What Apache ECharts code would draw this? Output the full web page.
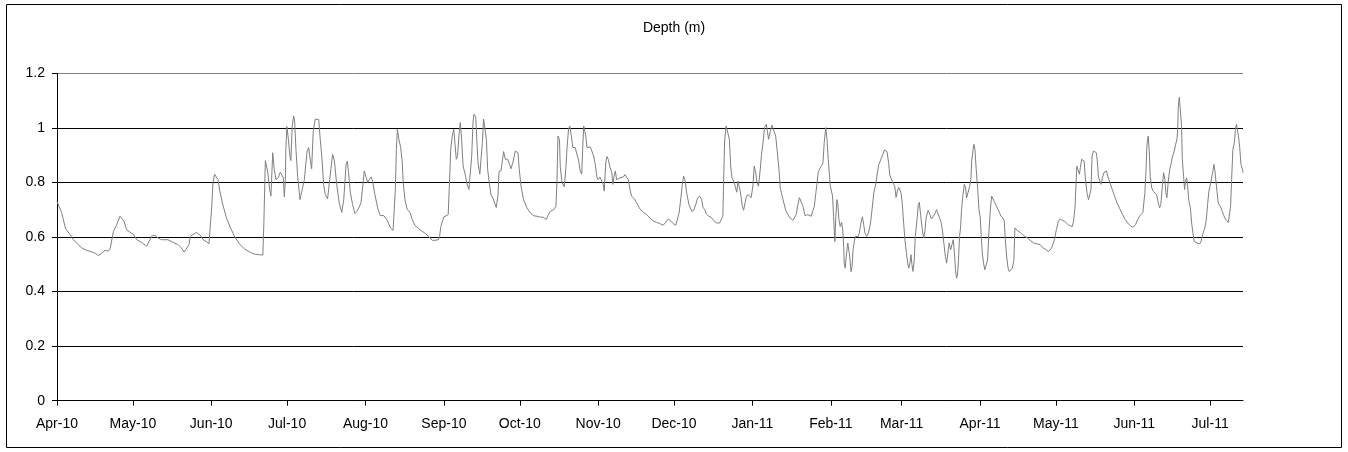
<!DOCTYPE html>
<html>
<head>
<meta charset="utf-8">
<script src="https://cdn.jsdelivr.net/npm/echarts@6/dist/echarts.min.js"></script>
<style>
  html, body { margin: 0; padding: 0; background: #ffffff; }
  #chart { width: 1348px; height: 452px; }
</style>
</head>
<body>
<div id="chart"></div>
<script>
// Water depth record, April 2010 – July 2011
const chartTitle = 'Depth (m)';
const monthNames = ['Jan', 'Feb', 'Mar', 'Apr', 'May', 'Jun', 'Jul', 'Aug', 'Sep', 'Oct', 'Nov', 'Dec'];
const startDay = [2010, 3, 1];   // 1 April 2010 (month is zero-based)
const lastDay = 469;             // axis runs to this many days after the start
const yTicks = [0, 0.2, 0.4, 0.6, 0.8, 1, 1.2];

// Days since 1 April 2010
const dayOffset = [
  0, 1.8, 3.4, 5.1, 6.5, 8.4, 9.8, 11.7, 13, 15, 16.3, 17.7, 19, 20.3, 21, 22.3, 23.6, 24.9, 25.6, 26.5,
  27.5, 28.9, 30.2, 31.5, 33.5, 35.5, 36.4, 37.7, 38.7, 40, 41.4, 43.9, 45.9, 47.9, 49.2, 50.2, 51.4, 52.2, 52.7, 53.8,
  55.1, 55.7, 56.7, 58, 59, 60.1, 60.6, 61.2, 61.7, 62.3, 63, 63.7, 64.3, 65.4, 67, 68.3, 70.3, 72.3, 74.2, 76.2,
  78.2, 80.1, 81.4, 81.8, 82.4, 82.8, 83.4, 84.1, 84.6, 85.3, 85.9, 86.6, 87.5, 88.3, 89, 89.5, 89.9, 90.3, 90.5, 90.9,
  91.5, 92.1, 92.5, 93, 93.6, 94, 94.5, 95.2, 96.1, 96.8, 97.8, 98.9, 99.5, 100.2, 100.7, 101.3, 102.1, 102.8, 103.5, 104.1,
  104.8, 105.4, 106.1, 107, 107.7, 108.3, 109, 109.7, 110.6, 111.6, 112.6, 113.4, 114.3, 114.8, 115.3, 116, 116.9, 117.8, 118.6, 119.5,
  120.2, 121, 121.5, 122.1, 122.9, 123.5, 124.2, 124.8, 125.7, 126.8, 127.8, 129.3, 130.6, 131.9, 132.9, 133.4, 133.8, 134.2, 134.6, 134.8,
  135.2, 135.9, 136.5, 136.9, 137.6, 138.5, 139.6, 140.5, 141.6, 143.1, 144.4, 145.8, 147.1, 148.4, 149.5, 150.8, 151.3, 151.8, 153, 153.9,
  154.7, 155.1, 155.7, 156.3, 156.9, 157.4, 157.9, 158.4, 159, 159.5, 160, 160.6, 161.4, 162.2, 162.9, 163.6, 164, 164.5, 164.9, 165.6,
  166, 166.5, 167.2, 167.7, 168.2, 168.7, 169.2, 169.8, 170.3, 170.8, 171.6, 172.4, 173.7, 174.4, 174.8, 175.6, 176.1, 176.6, 177.3, 178.2,
  179, 179.5, 180.3, 181.2, 181.9, 182.3, 182.8, 183.5, 184.5, 185.8, 187.2, 188.5, 189.8, 191.1, 192.4, 193.5, 194.1, 195.1, 196.4, 197.3,
  197.7, 198.1, 198.7, 199, 199.7, 200.6, 201.2, 201.7, 202.3, 202.8, 203.4, 204, 204.9, 205.6, 206.3, 206.9, 207.5, 207.9, 208.3, 208.7,
  209.1, 209.6, 210.3, 210.9, 211.6, 212.2, 212.8, 213.5, 214, 214.7, 215.4, 216, 216.4, 217, 217.5, 218, 218.7, 219.4, 219.8, 220.3,
  220.8, 221.3, 222, 222.6, 223.3, 224, 224.6, 225.3, 225.9, 226.6, 227.2, 228.3, 229.2, 230.5, 231.8, 233.2, 234.5, 235.8, 237.1, 238.4,
  239.7, 240.7, 241.7, 242.8, 243.7, 244.7, 245.4, 246, 246.8, 247.3, 247.8, 248.3, 249, 249.9, 251, 251.8, 252.6, 253.3, 254.1, 254.9,
  255.5, 256.2, 256.8, 257.8, 258.7, 259.7, 260.7, 262, 262.7, 263.3, 263.7, 264, 264.6, 265.3, 265.9, 266.4, 266.9, 267.6, 268.2, 268.8,
  269.3, 269.8, 270.3, 271, 271.5, 272.1, 272.6, 273.2, 273.9, 274.5, 275.2, 275.7, 276.3, 276.8, 277.4, 278.1, 278.6, 279.2, 279.8, 280.5,
  281, 281.4, 282.1, 282.7, 283.4, 284.2, 285, 285.6, 286, 287.1, 288.1, 289, 289.9, 291, 291.7, 292.3, 293, 293.6, 294.3, 295,
  295.8, 296.3, 296.9, 297.6, 298.2, 298.9, 299.5, 300.1, 300.5, 301, 301.6, 302.4, 302.9, 303.4, 304, 304.5, 305, 305.4, 305.8, 306.3,
  306.7, 307.1, 307.3, 307.6, 308, 308.4, 308.8, 309.2, 309.7, 310.3, 310.7, 311.1, 311.3, 311.7, 312.1, 312.7, 313.1, 313.4, 314, 314.4,
  314.8, 315.3, 315.7, 316.2, 316.8, 317.3, 317.9, 318.5, 319, 319.5, 320.2, 320.9, 321.7, 322.3, 323, 323.5, 323.9, 324.4, 325, 325.4,
  326, 326.5, 327.2, 327.7, 328.2, 328.9, 329.3, 329.8, 330.4, 330.7, 331.3, 331.8, 332.4, 332.9, 333.4, 333.8, 334.3, 334.8, 335.3, 335.9,
  336.4, 336.8, 337.3, 337.7, 338.1, 338.5, 339, 339.4, 340.1, 340.6, 341, 341.5, 342.2, 342.7, 343.2, 343.7, 344.5, 345.2, 345.8, 346.5,
  347.2, 347.8, 348.5, 349, 349.7, 350.2, 350.7, 351.3, 351.8, 352.3, 352.8, 353.4, 353.9, 354.4, 354.9, 355.3, 355.7, 356.1, 356.5, 356.9,
  357.3, 357.7, 358.2, 358.8, 359.3, 359.7, 360.3, 360.9, 361.4, 361.7, 362.2, 362.6, 363, 363.5, 364.1, 364.6, 365.1, 365.5, 365.9, 366.4,
  366.9, 367.5, 368, 368.5, 369.1, 369.6, 370.1, 370.6, 371.2, 371.8, 372.5, 373.3, 374.1, 374.6, 375, 375.6, 376.1, 376.6, 377.2, 377.8,
  378.4, 378.8, 379.4, 380.1, 380.9, 381.8, 382.8, 383.8, 384.8, 386.2, 387.5, 388.8, 389.9, 390.9, 392, 392.8, 393.6, 394.4, 395.2, 396,
  396.7, 397.5, 398.3, 399.1, 399.9, 400.7, 401.5, 402, 402.6, 403, 403.3, 403.7, 404.3, 404.7, 405.2, 405.8, 406.2, 406.6, 407.3, 407.9,
  408.4, 408.9, 409.3, 409.9, 410.5, 411, 411.4, 411.8, 412.4, 412.9, 413.4, 414, 414.5, 415, 415.6, 416.4, 417.3, 418.2, 419.2, 420.3,
  421.4, 422.4, 423.2, 424, 424.8, 425.6, 426.5, 427.3, 428.2, 429.4, 430.2, 430.6, 431, 431.5, 431.9, 432.3, 432.9, 433.5, 434.2, 434.8,
  435.5, 436, 436.5, 437.1, 437.6, 438.1, 438.5, 438.9, 439.4, 440, 440.5, 441, 441.8, 442.4, 442.9, 443.2, 443.4, 443.8, 444.4, 444.7,
  445, 445.5, 445.9, 446.3, 446.7, 447.1, 447.6, 448.2, 448.7, 449.2, 449.7, 450.3, 450.8, 451.3, 451.9, 452.4, 452.9, 453.4, 453.9, 454.5,
  455, 455.5, 456, 456.6, 457.1, 457.5, 457.9, 458.3, 458.7, 459.2, 459.8, 460.3, 460.8, 461.3, 461.8, 462.4, 463.2, 463.7, 464.1, 464.5,
  465, 465.6, 466, 466.4, 466.8, 467.2, 467.7, 468.2, 468.8, 469
];

// Depth in metres at each of the days above
const depth = [
  0.73, 0.69, 0.63, 0.61, 0.59, 0.572, 0.56, 0.551, 0.548, 0.541, 0.532, 0.541, 0.551, 0.548, 0.556, 0.62, 0.645, 0.676, 0.674, 0.658,
  0.627, 0.617, 0.61, 0.59, 0.58, 0.566, 0.584, 0.606, 0.606, 0.596, 0.59, 0.59, 0.58, 0.572, 0.56, 0.545, 0.56, 0.572, 0.602, 0.609,
  0.617, 0.617, 0.606, 0.588, 0.584, 0.575, 0.575, 0.713, 0.8, 0.83, 0.836, 0.81, 0.772, 0.725, 0.67, 0.64, 0.6, 0.573, 0.556, 0.545,
  0.537, 0.535, 0.534, 0.65, 0.88, 0.88, 0.835, 0.774, 0.75, 0.909, 0.848, 0.81, 0.817, 0.838, 0.842, 0.817, 0.747, 0.81, 0.92, 1.005,
  0.958, 0.897, 0.88, 1.007, 1.044, 1.02, 0.92, 0.817, 0.737, 0.735, 0.81, 0.915, 0.928, 0.88, 0.85, 0.983, 1.032, 1.038, 1.03, 0.958,
  0.885, 0.793, 0.756, 0.74, 0.744, 0.848, 0.903, 0.879, 0.793, 0.725, 0.69, 0.737, 0.866, 0.878, 0.836, 0.762, 0.719, 0.686, 0.694, 0.71,
  0.725, 0.793, 0.842, 0.823, 0.8, 0.811, 0.82, 0.805, 0.756, 0.707, 0.679, 0.678, 0.661, 0.633, 0.624, 0.627, 0.774, 0.921, 0.995, 0.995,
  0.958, 0.928, 0.879, 0.8, 0.737, 0.7, 0.69, 0.664, 0.642, 0.63, 0.621, 0.612, 0.6, 0.588, 0.588, 0.59, 0.602, 0.639, 0.674, 0.678,
  0.682, 0.774, 0.921, 0.97, 0.995, 0.94, 0.885, 0.897, 0.977, 1.02, 0.958, 0.86, 0.83, 0.793, 0.774, 0.776, 0.897, 1.02, 1.05, 1.038,
  0.958, 0.872, 0.83, 0.823, 0.946, 1.032, 1.026, 0.958, 0.848, 0.81, 0.755, 0.742, 0.708, 0.755, 0.84, 0.843, 0.878, 0.913, 0.885, 0.885,
  0.866, 0.85, 0.874, 0.915, 0.919, 0.909, 0.848, 0.786, 0.737, 0.707, 0.688, 0.678, 0.676, 0.673, 0.672, 0.664, 0.678, 0.694, 0.7, 0.713,
  0.8, 0.97, 0.958, 0.86, 0.8, 0.784, 0.848, 0.928, 0.995, 1.007, 0.97, 0.928, 0.928, 0.928, 0.879, 0.842, 0.83, 0.928, 1.007, 1.013,
  0.97, 0.928, 0.921, 0.93, 0.924, 0.897, 0.87, 0.82, 0.81, 0.82, 0.817, 0.793, 0.768, 0.872, 0.895, 0.885, 0.855, 0.836, 0.793, 0.823,
  0.842, 0.81, 0.808, 0.817, 0.817, 0.82, 0.829, 0.833, 0.81, 0.774, 0.75, 0.74, 0.725, 0.703, 0.691, 0.682, 0.67, 0.658, 0.654, 0.649,
  0.643, 0.654, 0.666, 0.658, 0.649, 0.643, 0.645, 0.688, 0.75, 0.793, 0.823, 0.811, 0.762, 0.719, 0.694, 0.698, 0.719, 0.743, 0.75, 0.737,
  0.708, 0.7, 0.684, 0.676, 0.672, 0.66, 0.652, 0.651, 0.654, 0.676, 0.835, 0.952, 1.007, 1.001, 0.958, 0.86, 0.817, 0.805, 0.786, 0.764,
  0.805, 0.805, 0.762, 0.713, 0.698, 0.725, 0.747, 0.756, 0.75, 0.744, 0.787, 0.86, 0.836, 0.8, 0.786, 0.848, 0.903, 0.946, 1.001, 1.013,
  0.983, 0.958, 0.989, 1.01, 1.005, 0.97, 0.897, 0.836, 0.78, 0.737, 0.7, 0.682, 0.67, 0.661, 0.666, 0.682, 0.719, 0.744, 0.744, 0.713,
  0.678, 0.674, 0.682, 0.678, 0.676, 0.678, 0.713, 0.762, 0.793, 0.836, 0.85, 0.862, 0.872, 0.946, 1.001, 0.958, 0.884, 0.836, 0.787, 0.78,
  0.75, 0.676, 0.639, 0.584, 0.676, 0.737, 0.719, 0.664, 0.639, 0.654, 0.627, 0.566, 0.504, 0.486, 0.529, 0.578, 0.584, 0.535, 0.473, 0.492,
  0.553, 0.584, 0.602, 0.609, 0.602, 0.615, 0.651, 0.674, 0.645, 0.615, 0.602, 0.615, 0.651, 0.7, 0.762, 0.768, 0.799, 0.835, 0.866, 0.86,
  0.889, 0.901, 0.919, 0.925, 0.913, 0.87, 0.828, 0.815, 0.803, 0.797, 0.785, 0.745, 0.772, 0.782, 0.779, 0.76, 0.718, 0.652, 0.591, 0.542,
  0.505, 0.486, 0.505, 0.535, 0.498, 0.474, 0.516, 0.602, 0.664, 0.719, 0.727, 0.682, 0.627, 0.596, 0.621, 0.67, 0.698, 0.682, 0.666, 0.67,
  0.686, 0.7, 0.694, 0.67, 0.651, 0.621, 0.578, 0.529, 0.504, 0.541, 0.578, 0.553, 0.572, 0.59, 0.541, 0.48, 0.449, 0.461, 0.516, 0.602,
  0.633, 0.7, 0.75, 0.793, 0.78, 0.743, 0.743, 0.786, 0.811, 0.878, 0.915, 0.94, 0.921, 0.848, 0.774, 0.7, 0.67, 0.602, 0.541, 0.504,
  0.48, 0.473, 0.516, 0.615, 0.7, 0.75, 0.743, 0.731, 0.725, 0.707, 0.694, 0.676, 0.67, 0.658, 0.59, 0.523, 0.486, 0.473, 0.48, 0.486,
  0.516, 0.633, 0.627, 0.621, 0.617, 0.609, 0.602, 0.596, 0.588, 0.578, 0.575, 0.572, 0.56, 0.555, 0.547, 0.553, 0.566, 0.59, 0.627, 0.658,
  0.666, 0.661, 0.658, 0.652, 0.645, 0.641, 0.639, 0.658, 0.713, 0.8, 0.86, 0.848, 0.83, 0.854, 0.885, 0.891, 0.878, 0.823, 0.762, 0.737,
  0.731, 0.774, 0.897, 0.915, 0.921, 0.909, 0.878, 0.823, 0.805, 0.793, 0.817, 0.836, 0.842, 0.842, 0.82, 0.799, 0.774, 0.75, 0.725, 0.703,
  0.682, 0.664, 0.654, 0.645, 0.639, 0.636, 0.645, 0.663, 0.678, 0.69, 0.762, 0.835, 0.934, 0.97, 0.921, 0.823, 0.78, 0.768, 0.762, 0.756,
  0.725, 0.707, 0.719, 0.787, 0.836, 0.811, 0.762, 0.744, 0.799, 0.848, 0.866, 0.891, 0.915, 0.94, 0.961, 0.995, 1.075, 1.112, 1.044, 1.007,
  0.885, 0.823, 0.774, 0.805, 0.817, 0.787, 0.731, 0.707, 0.651, 0.615, 0.584, 0.58, 0.578, 0.575, 0.575, 0.584, 0.602, 0.621, 0.633, 0.664,
  0.719, 0.768, 0.787, 0.817, 0.842, 0.866, 0.842, 0.805, 0.768, 0.725, 0.715, 0.707, 0.694, 0.682, 0.67, 0.661, 0.654, 0.658, 0.713, 0.811,
  0.921, 0.946, 0.995, 1.013, 1.019, 0.97, 0.928, 0.866, 0.848, 0.836
];

const DAY_MS = 86400000;
const startMs = new Date(startDay[0], startDay[1], startDay[2]).getTime();
const seriesData = dayOffset.map((d, i) => [startMs + d * DAY_MS, depth[i]]);

const font = '"Liberation Sans", Arial, sans-serif';

const chart = echarts.init(document.getElementById('chart'), null, { renderer: 'canvas' });
chart.setOption({
  animation: false,
  backgroundColor: '#ffffff',
  title: {
    text: chartTitle,
    left: 'center',
    top: 16,
    textStyle: { fontFamily: font, fontSize: 14, fontWeight: 'normal', color: '#000' }
  },
  grid: { left: 57, right: 105, top: 73.3, bottom: 51.3, containLabel: false },
  xAxis: {
    type: 'time',
    min: startMs,
    max: startMs + lastDay * DAY_MS,
    minInterval: 28 * DAY_MS,
    maxInterval: 31 * DAY_MS,
    axisLine: { lineStyle: { color: '#000', width: 1 } },
    axisTick: { show: true, inside: false, length: 5, lineStyle: { color: '#000' } },
    splitLine: { show: false },
    axisLabel: {
      fontFamily: font, fontSize: 14, color: '#000', margin: 16,
      showMinLabel: true, showMaxLabel: false, hideOverlap: false,
      formatter: (v) => {
        const d = new Date(v);
        return monthNames[d.getMonth()] + '-' + String(d.getFullYear()).slice(2);
      }
    }
  },
  yAxis: {
    type: 'value',
    min: yTicks[0],
    max: yTicks[yTicks.length - 1],
    interval: 0.2,
    axisLine: { show: true, lineStyle: { color: '#000', width: 1 } },
    axisTick: { show: true, inside: false, length: 5, lineStyle: { color: '#000' } },
    splitLine: { show: true, lineStyle: { color: ['#000', '#000', '#000', '#000', '#000', '#000', '#808080'], width: 1 } },
    axisLabel: {
      fontFamily: font, fontSize: 14, color: '#000', margin: 12,
      formatter: (v) => String(Math.round(v * 10) / 10)
    }
  },
  graphic: [{
    type: 'rect',
    shape: { x: 6.5, y: 4.5, width: 1335, height: 443 },
    style: { fill: null, stroke: '#000', lineWidth: 1 },
    silent: true
  }],
  series: [{
    type: 'line',
    data: seriesData,
    showSymbol: false,
    symbol: 'none',
    lineStyle: { color: '#808080', width: 1 },
    emphasis: { disabled: true }
  }]
});
</script>
</body>
</html>
